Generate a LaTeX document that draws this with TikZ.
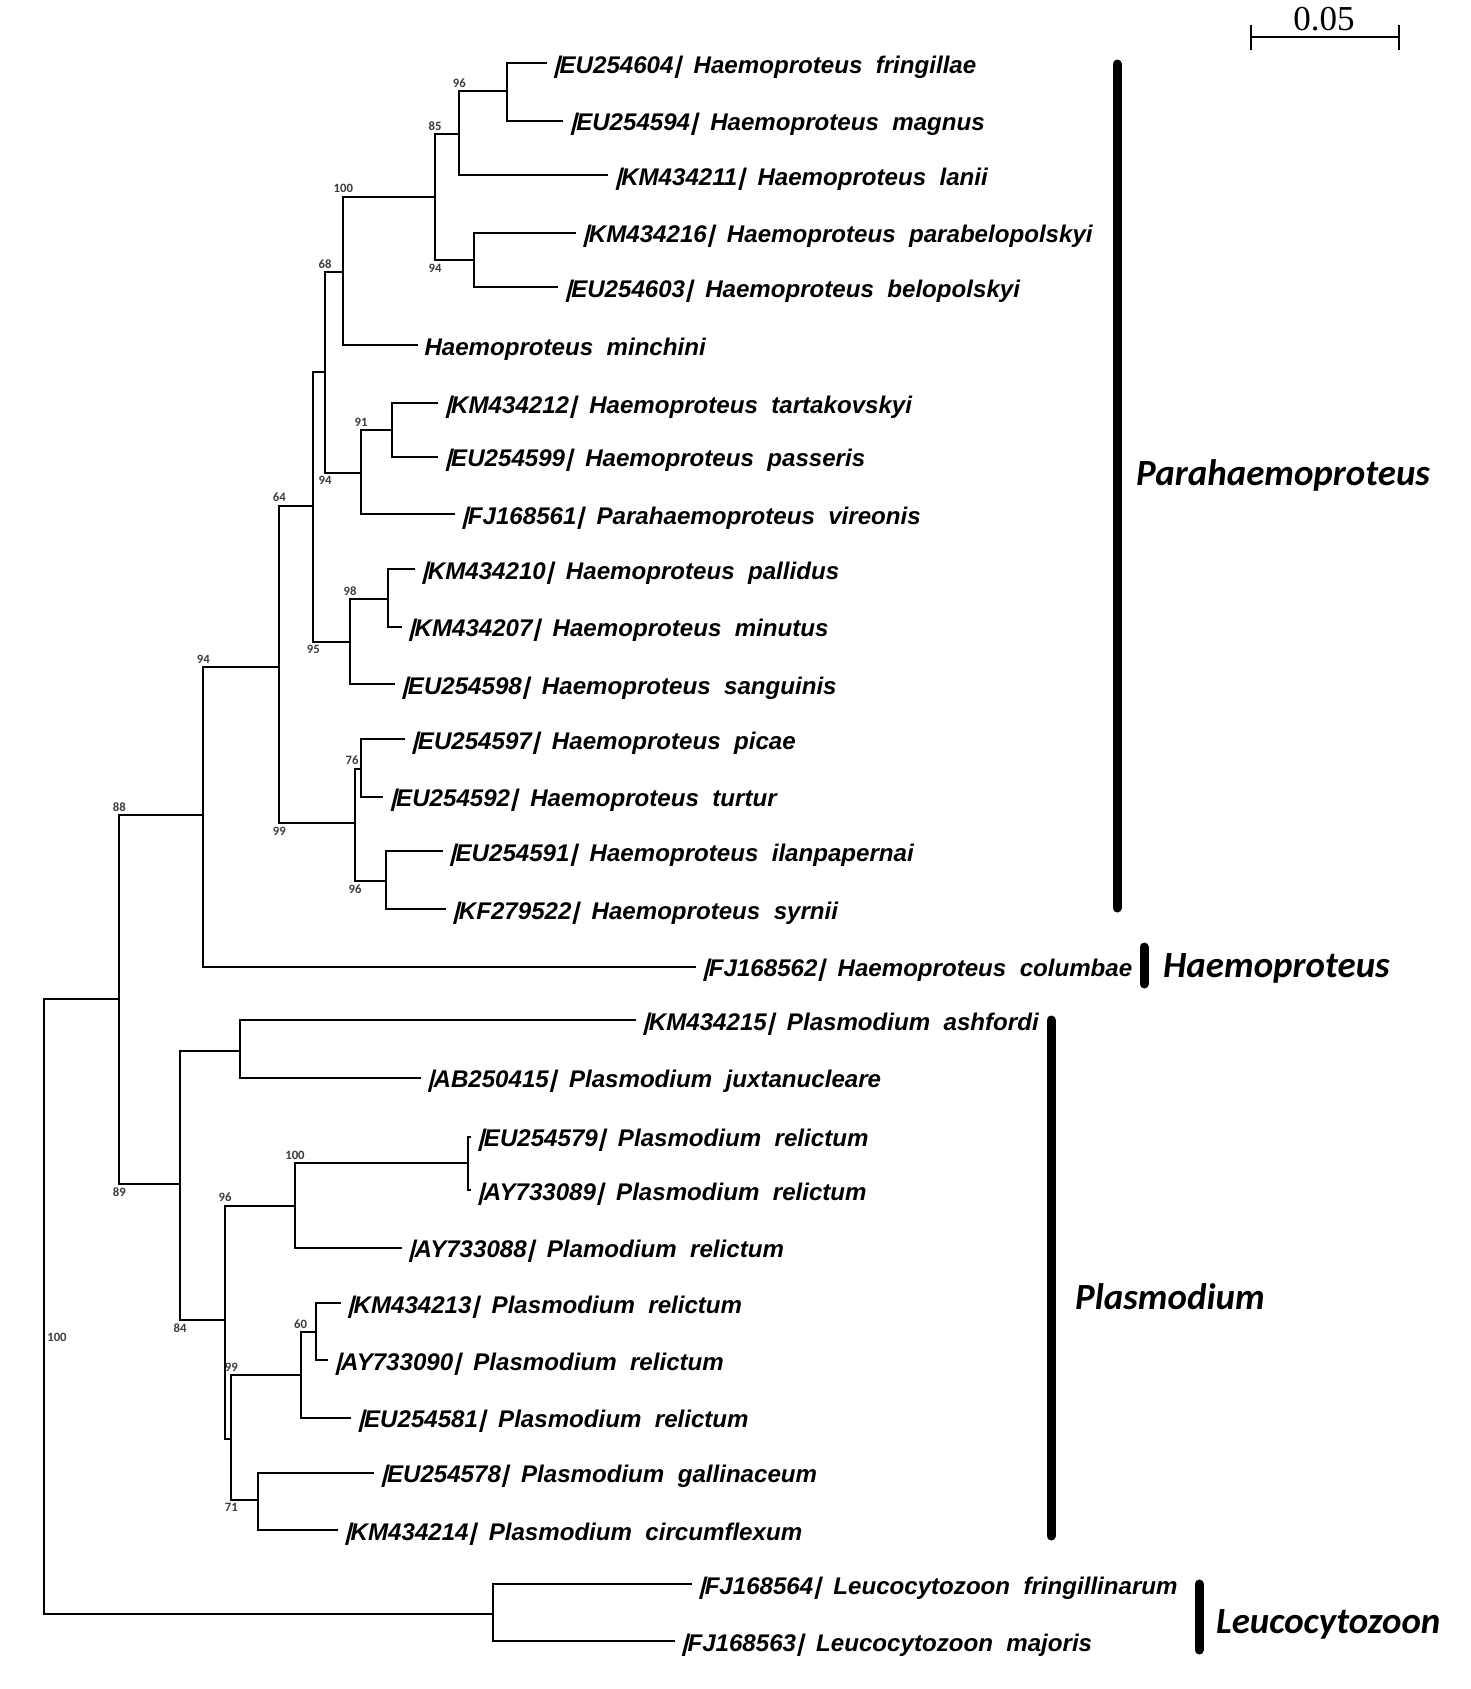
\documentclass[tikz,border=0pt]{standalone}
\usepackage{fontspec}
\setmainfont{Liberation Sans}
\newfontfamily\tipf{Liberation Sans}
\newfontfamily\barf{Liberation Sans Bold}[FakeSlant=0.25]
\newfontfamily\cladef{Carlito}
\newfontfamily\bsf{Carlito}
\newfontfamily\scalef{Liberation Serif}
\definecolor{bsgray}{RGB}{60,60,60}
\newcommand\dsp{\hspace{0.556em}}
\newcommand\vb{{\barf|}}
\newcommand\br[3]{\draw[branch] (#1) -| (#2) |- (#3);}
\tikzset{
  tip/.style={anchor=base west, inner sep=0pt, xshift=6pt, yshift=-10pt,
    font=\tipf\bfseries\itshape\fontsize{24.1}{28}\selectfont},
  bs/.style={inner sep=0pt, font=\bsf\bfseries\fontsize{12.7}{14}\selectfont, text=bsgray},
  bsup/.style={bs, anchor=south, yshift=3.5pt},
  bsdn/.style={bs, anchor=north, yshift=-3.5pt},
  clade/.style={anchor=base west, inner sep=0pt,
    font=\cladef\bfseries\itshape\fontsize{36.9}{40}\selectfont},
  branch/.style={line width=2pt},
  cbar/.style={line width=9pt, line cap=round},
}
\begin{document}
\begin{tikzpicture}[x=1pt,y=-1pt]
\useasboundingbox (0,0) rectangle (1471,1689);
% tip branch ends
\coordinate (e1) at (546.7,63.3);
\coordinate (e2) at (563.3,120.7);
\coordinate (e3) at (608.3,175);
\coordinate (e4) at (576,232.7);
\coordinate (e5) at (558.3,287.3);
\coordinate (e6) at (418.3,345);
\coordinate (e7) at (438.3,403.3);
\coordinate (e8) at (438.3,456.7);
\coordinate (e9) at (455,514);
\coordinate (e10) at (415,569.3);
\coordinate (e11) at (401.7,626.7);
\coordinate (e12) at (395,684);
\coordinate (e13) at (405,739);
\coordinate (e14) at (383.3,796.7);
\coordinate (e15) at (442.7,851);
\coordinate (e16) at (446,909.3);
\coordinate (e17) at (696,966.7);
\coordinate (e18) at (636,1020);
\coordinate (e19) at (420.7,1077.7);
\coordinate (e20) at (471,1136.7);
\coordinate (e21) at (471,1190);
\coordinate (e22) at (401.7,1247.7);
\coordinate (e23) at (340.7,1303.3);
\coordinate (e24) at (328.2,1360);
\coordinate (e25) at (351.2,1417.7);
\coordinate (e26) at (374.1,1472.7);
\coordinate (e27) at (337.8,1530);
\coordinate (e28) at (691.8,1584);
\coordinate (e29) at (674.6,1641);
% internal nodes
\coordinate (nA) at (506.7,91);
\coordinate (nB) at (459.3,134.3);
\coordinate (nC) at (474,260);
\coordinate (nD) at (435,196.7);
\coordinate (nE) at (343.3,272.3);
\coordinate (nG) at (392.3,430);
\coordinate (nH) at (361,472.7);
\coordinate (nF) at (325,371.7);
\coordinate (nJ) at (388.3,599.3);
\coordinate (nK) at (350,641.7);
\coordinate (nI) at (313.3,505.7);
\coordinate (nM) at (361,769);
\coordinate (nO) at (385.7,881);
\coordinate (nN) at (355,823.3);
\coordinate (nL) at (279.3,666.7);
\coordinate (nP) at (203.3,815);
\coordinate (nR) at (240,1050.7);
\coordinate (nT) at (468.3,1163.3);
\coordinate (nU) at (295,1205.7);
\coordinate (nW) at (316,1332.3);
\coordinate (nX) at (300.6,1375);
\coordinate (nZ) at (258.2,1500);
\coordinate (nY) at (231.4,1439.3);
\coordinate (nV) at (225,1320.3);
\coordinate (nS) at (180,1184.3);
\coordinate (nQ) at (119.3,999);
\coordinate (nLeu) at (492.8,1614.3);
\coordinate (root) at (44,1306);
% branches
\br{e1}{nA}{e2}
\br{nA}{nB}{e3}
\br{e4}{nC}{e5}
\br{nB}{nD}{nC}
\br{nD}{nE}{e6}
\br{e7}{nG}{e8}
\br{nG}{nH}{e9}
\br{nE}{nF}{nH}
\br{e10}{nJ}{e11}
\br{nJ}{nK}{e12}
\br{nF}{nI}{nK}
\br{e13}{nM}{e14}
\br{e15}{nO}{e16}
\br{nM}{nN}{nO}
\br{nI}{nL}{nN}
\br{nL}{nP}{e17}
\br{e18}{nR}{e19}
\br{e20}{nT}{e21}
\br{nT}{nU}{e22}
\br{e23}{nW}{e24}
\br{nW}{nX}{e25}
\br{e26}{nZ}{e27}
\br{nX}{nY}{nZ}
\br{nU}{nV}{nY}
\br{nR}{nS}{nV}
\br{nP}{nQ}{nS}
\br{nQ}{root}{nLeu}
\br{e28}{nLeu}{e29}
% tip labels
\node[tip] (t1) at (e1) {\vb EU254604\vb\dsp Haemoproteus\dsp fringillae};
\node[tip] (t2) at (e2) {\vb EU254594\vb\dsp Haemoproteus\dsp magnus};
\node[tip] (t3) at (e3) {\vb KM434211\vb\dsp Haemoproteus\dsp lanii};
\node[tip] (t4) at (e4) {\vb KM434216\vb\dsp Haemoproteus\dsp parabelopolskyi};
\node[tip] (t5) at (e5) {\vb EU254603\vb\dsp Haemoproteus\dsp belopolskyi};
\node[tip] (t6) at (e6) {Haemoproteus\dsp minchini};
\node[tip] (t7) at (e7) {\vb KM434212\vb\dsp Haemoproteus\dsp tartakovskyi};
\node[tip] (t8) at (e8) {\vb EU254599\vb\dsp Haemoproteus\dsp passeris};
\node[tip] (t9) at (e9) {\vb FJ168561\vb\dsp Parahaemoproteus\dsp vireonis};
\node[tip] (t10) at (e10) {\vb KM434210\vb\dsp Haemoproteus\dsp pallidus};
\node[tip] (t11) at (e11) {\vb KM434207\vb\dsp Haemoproteus\dsp minutus};
\node[tip] (t12) at (e12) {\vb EU254598\vb\dsp Haemoproteus\dsp sanguinis};
\node[tip] (t13) at (e13) {\vb EU254597\vb\dsp Haemoproteus\dsp picae};
\node[tip] (t14) at (e14) {\vb EU254592\vb\dsp Haemoproteus\dsp turtur};
\node[tip] (t15) at (e15) {\vb EU254591\vb\dsp Haemoproteus\dsp ilanpapernai};
\node[tip] (t16) at (e16) {\vb KF279522\vb\dsp Haemoproteus\dsp syrnii};
\node[tip] (t17) at (e17) {\vb FJ168562\vb\dsp Haemoproteus\dsp columbae};
\node[tip] (t18) at (e18) {\vb KM434215\vb\dsp Plasmodium\dsp ashfordi};
\node[tip] (t19) at (e19) {\vb AB250415\vb\dsp Plasmodium\dsp juxtanucleare};
\node[tip] (t20) at (e20) {\vb EU254579\vb\dsp Plasmodium\dsp relictum};
\node[tip] (t21) at (e21) {\vb AY733089\vb\dsp Plasmodium\dsp relictum};
\node[tip] (t22) at (e22) {\vb AY733088\vb\dsp Plamodium\dsp relictum};
\node[tip] (t23) at (e23) {\vb KM434213\vb\dsp Plasmodium\dsp relictum};
\node[tip] (t24) at (e24) {\vb AY733090\vb\dsp Plasmodium\dsp relictum};
\node[tip] (t25) at (e25) {\vb EU254581\vb\dsp Plasmodium\dsp relictum};
\node[tip] (t26) at (e26) {\vb EU254578\vb\dsp Plasmodium\dsp gallinaceum};
\node[tip] (t27) at (e27) {\vb KM434214\vb\dsp Plasmodium\dsp circumflexum};
\node[tip] (t28) at (e28) {\vb FJ168564\vb\dsp Leucocytozoon\dsp fringillinarum};
\node[tip] (t29) at (e29) {\vb FJ168563\vb\dsp Leucocytozoon\dsp majoris};
% bootstrap values
\node[bsup] (b1) at (nB|-nA) {96};
\node[bsup] (b2) at (nD|-nB) {85};
\node[bsdn] (b3) at (nD|-nC) {94};
\node[bsup] (b4) at (nE|-nD) {100};
\node[bsup] (b5) at (nF|-nE) {68};
\node[bsup] (b6) at (nH|-nG) {91};
\node[bsdn] (b7) at (nF|-nH) {94};
\node[bsup] (b8) at (nK|-nJ) {98};
\node[bsdn] (b9) at (nI|-nK) {95};
\node[bsup] (b10) at (nL|-nI) {64};
\node[bsup, xshift=-3pt, yshift=1pt] (b11) at (nN|-nM) {76};
\node[bsdn] (b12) at (nN|-nO) {96};
\node[bsdn] (b13) at (nL|-nN) {99};
\node[bsup] (b14) at (nP|-nL) {94};
\node[bsup] (b15) at (nQ|-nP) {88};
\node[bsup] (b16) at (nU|-nT) {100};
\node[bsup] (b17) at (nV|-nU) {96};
\node[bsup] (b18) at (nX|-nW) {60};
\node[bsup] (b19) at (nY|-nX) {99};
\node[bsdn] (b20) at (nY|-nZ) {71};
\node[bsdn] (b21) at (nS|-nV) {84};
\node[bsdn] (b22) at (nQ|-nS) {89};
\node[bs] (b23) at (57,1337) {100};
% clade bars and labels
\draw[cbar] (1117,64) -- (1117,908);
\draw[cbar] (1144,947) -- (1144,984);
\draw[cbar] (1051,1020) -- (1051,1536);
\draw[cbar] (1199,1584) -- (1199,1650);
\node[clade] (c1) at (1136,485) {Parahaemoproteus};
\node[clade] (c2) at (1163,977) {Haemoproteus};
\node[clade] (c3) at (1075,1309) {Plasmodium};
\node[clade] (c4) at (1216,1633) {Leucocytozoon};
% scale bar
\coordinate (sL) at (1251,36.7);
\coordinate (sR) at (1399,36.7);
\draw[line width=1.6pt] (sL) -- (sR);
\draw[line width=1.6pt] ([yshift=12pt]sL) -- ([yshift=-13pt]sL);
\draw[line width=1.6pt] ([yshift=12pt]sR) -- ([yshift=-13pt]sR);
\node[anchor=base, inner sep=0pt, font=\scalef\fontsize{35}{40}\selectfont] (sc) at (1324,30.7) {0.05};
\end{tikzpicture}
\end{document}
